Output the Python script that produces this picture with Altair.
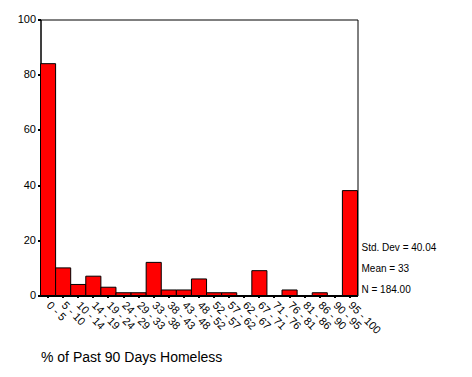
import altair as alt
import pandas as pd

bins = ["0 - 5", "5 - 10", "10 - 14", "14 - 19", "19 - 24", "24 - 29", "29 - 33",
        "33 - 38", "38 - 43", "43 - 48", "48 - 52", "52 - 57", "57 - 62", "62 - 67",
        "67 - 71", "71 - 76", "76 - 81", "81 - 86", "86 - 90", "90 - 95", "95 - 100"]
counts = [84, 10, 4, 7, 3, 1, 1, 12, 2, 2, 6, 1, 1, 0, 9, 0, 2, 0, 1, 0, 38]
stats = ["Std. Dev = 40.04", "Mean = 33", "N = 184.00"]
y_ticks = [0, 20, 40, 60, 80, 100]

FONT = "Liberation Sans"
W, H = 317, 276

df = pd.DataFrame({"bin": bins, "count": counts})

bars = alt.Chart(df).mark_bar(color="#FF0000", stroke="black", strokeWidth=1).encode(
    x=alt.X("bin:N", sort=bins,
            scale=alt.Scale(paddingInner=0, paddingOuter=0),
            axis=alt.Axis(title="% of Past 90 Days Homeless", labelAngle=45,
                          labelAlign="left", labelBaseline="middle",
                          labelFont=FONT, labelFontSize=11, labelColor="black",
                          labelPadding=6,
                          titleFont=FONT, titleFontSize=14, titleFontWeight="normal",
                          titleColor="black", titleX=0, titleY=62,
                          titleAlign="left", titleBaseline="middle",
                          domainColor="black", domainWidth=2,
                          tickColor="black", tickWidth=2, tickSize=2)),
    y=alt.Y("count:Q", scale=alt.Scale(domain=[0, 100], nice=False),
            axis=alt.Axis(title=None, values=y_ticks, grid=False,
                          labelFont=FONT, labelFontSize=11, labelColor="black",
                          labelPadding=2,
                          domainColor="black", domainWidth=1,
                          tickColor="black", tickWidth=2, tickSize=3)),
)

sdf = pd.DataFrame({"t": stats, "i": [0, 1, 2]})
text = alt.Chart(sdf).mark_text(align="left", baseline="middle", font=FONT,
                                fontSize=10, color="black").encode(
    x=alt.value(W + 4),
    y=alt.Y("i:Q", scale=alt.Scale(domain=[0, 2], range=[228, 270]), axis=None),
    text="t:N",
)

chart = alt.layer(bars, text).resolve_scale(y="independent").properties(
    width=W, height=H,
    padding={"left": 32.5, "top": 11.5, "right": 100, "bottom": 70},
    autosize="none",
    background="white",
).configure_view(stroke="black", strokeWidth=1)

chart.save("out.html", embed_options={"renderer": "svg", "actions": False})
